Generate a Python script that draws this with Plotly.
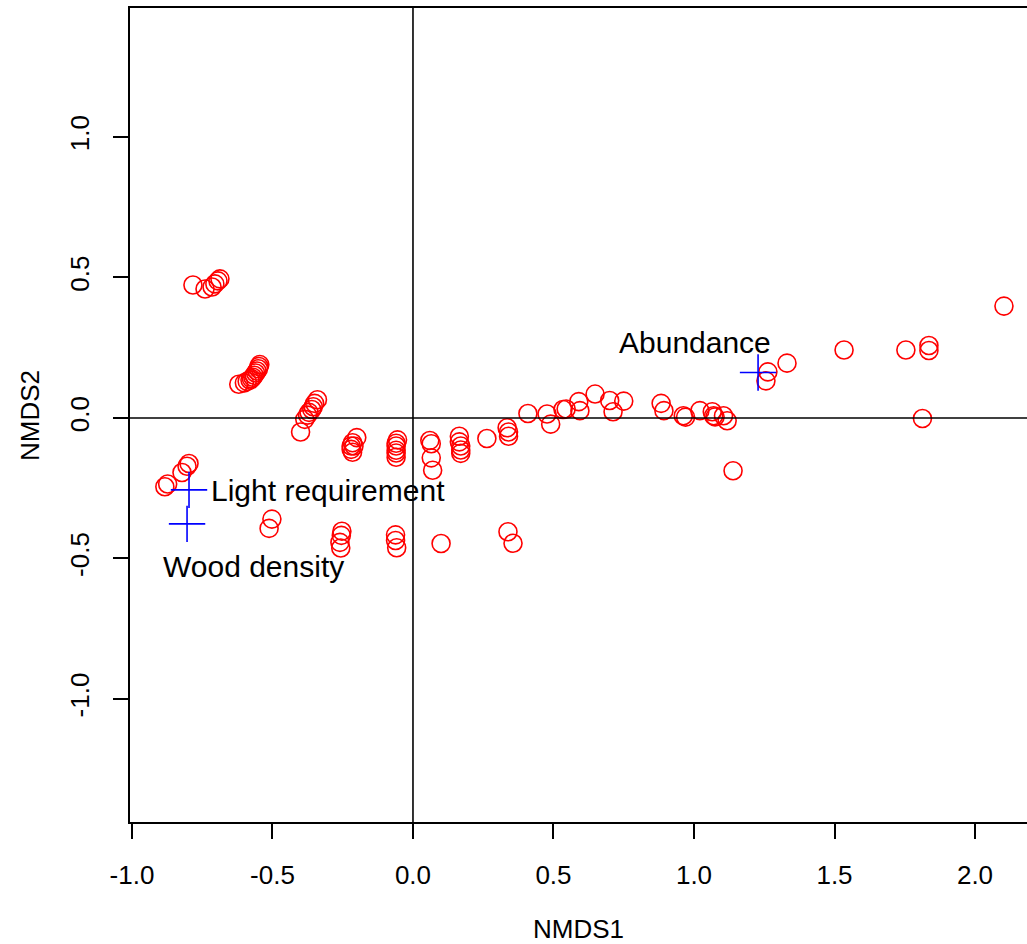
import plotly.graph_objects as go

# Site/species scores (NMDS1, NMDS2)
nmds1 = [
    -0.783, -0.740, -0.715, -0.705, -0.694, -0.687,
    -0.620, -0.600, -0.590, -0.580, -0.575, -0.570, -0.565, -0.560, -0.555, -0.550, -0.548, -0.545,
    -0.400, -0.385, -0.375, -0.370, -0.360, -0.355, -0.350, -0.340,
    -0.200, -0.215, -0.220, -0.220, -0.215, -0.210,
    -0.055, -0.060, -0.060, -0.060, -0.060, -0.060,
    0.060, 0.065, 0.065, 0.070,
    0.165, 0.165, 0.170, 0.170, 0.170,
    0.263, 0.335, 0.340, 0.340,
    0.409, 0.477, 0.490, 0.534, 0.545, 0.590, 0.594, 0.648, 0.700, 0.712, 0.750,
    0.883, 0.893, 0.962, 0.970, 1.021, 1.065, 1.070, 1.075, 1.105, 1.118, 1.139,
    1.263, 1.256, 1.331, 1.534, 1.754, 1.836, 1.836, 2.103, 1.813,
    -0.883, -0.873, -0.822, -0.804, -0.797, -0.502, -0.512,
    -0.253, -0.255, -0.260, -0.257, -0.062, -0.062, -0.058, 0.100, 0.338, 0.356,
]
nmds2 = [
    0.473, 0.459, 0.466, 0.477, 0.488, 0.495,
    0.120, 0.125, 0.130, 0.135, 0.140, 0.145, 0.152, 0.160, 0.167, 0.175, 0.183, 0.190,
    -0.050, -0.005, 0.010, 0.020, 0.030, 0.040, 0.052, 0.065,
    -0.070, -0.088, -0.100, -0.112, -0.122, -0.100,
    -0.078, -0.090, -0.100, -0.115, -0.125, -0.140,
    -0.080, -0.092, -0.142, -0.186,
    -0.065, -0.085, -0.100, -0.114, -0.126,
    -0.073, -0.035, -0.050, -0.065,
    0.016, 0.014, -0.022, 0.030, 0.032, 0.058, 0.026, 0.085, 0.062, 0.022, 0.060,
    0.052, 0.026, 0.008, 0.003, 0.026, 0.022, 0.008, 0.004, 0.008, -0.010, -0.188,
    0.164, 0.132, 0.195, 0.242, 0.242, 0.258, 0.240, 0.398, -0.002,
    -0.245, -0.235, -0.194, -0.172, -0.162, -0.360, -0.393,
    -0.403, -0.418, -0.443, -0.463, -0.416, -0.436, -0.462, -0.447, -0.405, -0.446,
]

# Trait (envfit-style) positions
trait_names = ["Abundance", "Light requirement", "Wood density"]
trait_x = [1.228, -0.797, -0.804]
trait_y = [0.162, -0.256, -0.377]

# Text label positions for traits
label_x = [1.004, -0.727, -0.569]
label_y = [0.268, -0.258, -0.527]
label_anchor = ["center", "left", "center"]

x_ticks = [-1.0, -0.5, 0.0, 0.5, 1.0, 1.5, 2.0]
y_ticks = [-1.0, -0.5, 0.0, 0.5, 1.0]

FONT = "Liberation Sans, Arial, Helvetica, sans-serif"

fig = go.Figure()

fig.add_trace(go.Scatter(
    x=nmds1, y=nmds2, mode="markers",
    marker=dict(symbol="circle-open", size=18, color="#ff0000",
                line=dict(color="#ff0000", width=1.6)),
    showlegend=False, hoverinfo="x+y",
))

fig.add_trace(go.Scatter(
    x=trait_x, y=trait_y, mode="markers",
    marker=dict(symbol="cross-thin-open", size=26, color="#0000ff",
                line=dict(color="#0000ff", width=1.6)),
    showlegend=False, text=trait_names, hoverinfo="text",
))

for name, lx, ly, anc in zip(trait_names, label_x, label_y, label_anchor):
    fig.add_annotation(x=lx, y=ly, xref="x", yref="y", text=name, showarrow=False,
                       xanchor=anc, yanchor="middle",
                       font=dict(family=FONT, size=30, color="black"))

# Reference lines at 0
fig.add_hline(y=0, line=dict(color="black", width=1.6))
fig.add_vline(x=0, line=dict(color="black", width=1.6))

axis_common = dict(
    showgrid=False, zeroline=False, showline=True, linecolor="black", linewidth=1.6,
    ticks="outside", ticklen=15, tickwidth=1.6, tickcolor="black",
    tickfont=dict(family=FONT, size=26, color="black"),
)

fig.update_xaxes(range=[-1.007, 2.185], tickvals=x_ticks,
                 ticktext=[f"{v:.1f}" for v in x_ticks], mirror=True,
                 ticklabelstandoff=14, **axis_common)
fig.update_yaxes(range=[-1.438, 1.459], tickvals=y_ticks,
                 ticktext=[f"{v:.1f}" for v in y_ticks], mirror=False,
                 tickangle=-90, ticklabelstandoff=14, **axis_common)

# Axis titles
fig.add_annotation(x=0.5, y=-0.131, xref="paper", yref="paper", text="NMDS1",
                   showarrow=False, xanchor="center", yanchor="middle",
                   font=dict(family=FONT, size=26, color="black"))
fig.add_annotation(x=-0.1115, y=0.5, xref="paper", yref="paper", text="NMDS2",
                   showarrow=False, xanchor="center", yanchor="middle", textangle=-90,
                   font=dict(family=FONT, size=26, color="black"))

fig.update_layout(
    width=1027, height=944,
    margin=dict(l=130, r=0, t=8, b=122),
    plot_bgcolor="white", paper_bgcolor="white",
)

fig.write_html("out.html")
